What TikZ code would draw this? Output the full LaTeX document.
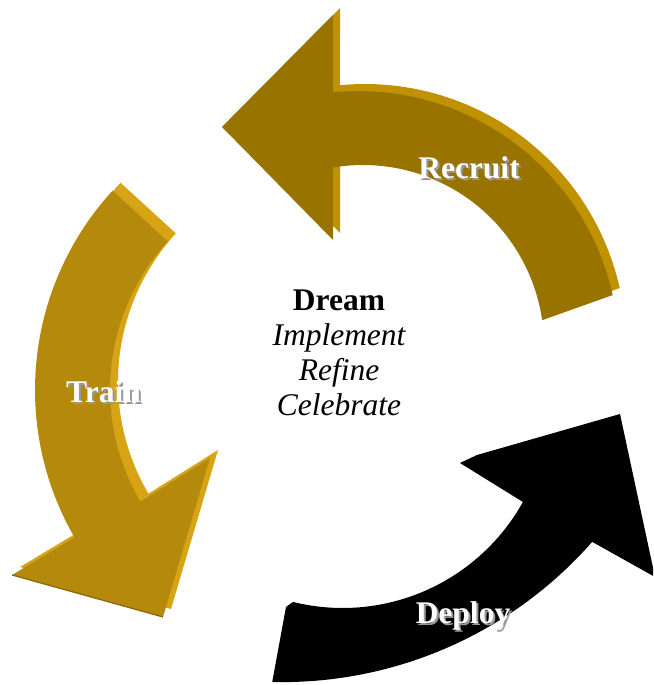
\documentclass[tikz,border=0pt]{standalone}
\usepackage{fontspec}
\setmainfont{Liberation Serif}
\definecolor{recface}{RGB}{153,115,0}
\definecolor{recside}{RGB}{192,146,0}
\definecolor{trface}{RGB}{180,137,12}
\definecolor{trside}{RGB}{214,164,20}
\newcommand\shadowtext[1]{\leavevmode\rlap{\kern2pt\raisebox{-2pt}{\textcolor{black!40}{#1}}}#1}
\begin{document}
\begin{tikzpicture}[x=1pt,y=-1pt,
  lbl/.style={font=\fontsize{31.5}{36}\selectfont\bfseries, text=white, inner sep=0pt, anchor=base},
  core/.style={font=\fontsize{31.5}{35}\selectfont, inner sep=0pt, anchor=base}]
\useasboundingbox (0,0) rectangle (653,685);
\clip (0,0) rectangle (653,685);
\def\recruitpath{plot[domain=95.5:12.6, samples=60] ({358+261*cos(\x)},{352-261*sin(\x)}) -- plot[domain=8.2:99.5, samples=60] ({363+181*cos(\x)},{346-181*sin(\x)}) -- (333,240) -- (222,127) -- (333,15) -- cycle}
\def\trainpath{plot[domain=137.5:210, samples=60] ({330+295*cos(\x)},{390-295*sin(\x)}) -- (12,575) -- (163,617) -- (210,458) -- plot[domain=210.5:137.5, samples=60] ({330+220*cos(\x)},{390-220*sin(\x)}) -- cycle}
% Recruit arrow
\fill[recside, shift={(7,-7)}] \recruitpath;
\fill[recface] \recruitpath;
% Train arrow
\fill[trside, shift={(8,-8)}] \trainpath;
\fill[trface] \trainpath;
\draw[trface!75!black, line width=1.2pt] (12,575) -- (163,617);
% Deploy arrow
\fill[black] plot[domain=-91.4:-41.3, samples=60] ({282.3+412.5*cos(\x)},{269.6-412.5*sin(\x)}) -- (655,577) -- (620,414) -- (477,455) -- (460,463) -- plot[domain=-29.1:-103.9, samples=60] ({342.6+206.4*cos(\x)},{401.6-206.4*sin(\x)}) -- (286,607) -- cycle;
% labels
\node[lbl] (rec) at (469,178) {\shadowtext{Recruit}};
\node[lbl] (tr) at (103.5,402) {\shadowtext{Train}};
\node[lbl] (dep) at (463,623) {\shadowtext{Deploy}};
% center text
\node[core] (dream) at (339,310) {\bfseries Dream};
\node[core] (impl) at (339,345) {\itshape Implement};
\node[core] (refine) at (339,380) {\itshape Refine};
\node[core] (celeb) at (339,415) {\itshape Celebrate};
\end{tikzpicture}
\end{document}
